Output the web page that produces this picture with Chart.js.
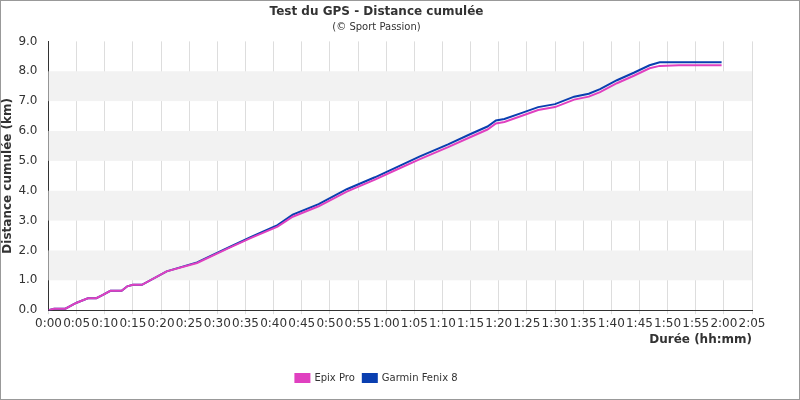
<!DOCTYPE html><html><head><meta charset="utf-8">
<script src="https://cdn.jsdelivr.net/npm/chart.js@4"></script>
<style>body{margin:0}#w{width:798px;height:398px;border:1px solid #999}</style></head><body><div id="w"><canvas id="c"></canvas></div>
<script>
const minutes = [0,1,3,5,7,8.5,9.5,11,13,14,15,16.6,21,26.4,32,36,40.7,43.4,48,53,58,62,66,71,75,78,79.5,81,84,87,90,93.4,96,98,101,104,106.8,108.6,112,119.6];
const fenix = [0,0.05,0.05,0.25,0.4,0.4,0.5,0.65,0.65,0.8,0.85,0.85,1.3,1.6,2.1,2.45,2.85,3.2,3.55,4.05,4.45,4.8,5.15,5.55,5.9,6.15,6.35,6.4,6.6,6.8,6.9,7.15,7.25,7.4,7.7,7.95,8.2,8.3,8.3,8.3];
const epix  = [0,0.05,0.05,0.25,0.4,0.4,0.5,0.65,0.65,0.8,0.85,0.85,1.3,1.58,2.08,2.42,2.8,3.13,3.48,3.97,4.37,4.72,5.06,5.46,5.8,6.05,6.25,6.3,6.5,6.7,6.8,7.05,7.15,7.3,7.6,7.85,8.1,8.18,8.2,8.2];
const xTicks = [0,5,10,15,20,25,30,35,40,45,50,55,60,65,70,75,80,85,90,95,100,105,110,115,120,125];
const fmt = m => Math.floor(m/60)+':'+String(m%60).padStart(2,'0');
const bands = {id:'bands',beforeDatasetsDraw(ch){const {ctx,chartArea:a,scales:{y}}=ch;ctx.save();ctx.fillStyle='#f2f2f2';
 for(let v=1;v<9;v+=2){const t=y.getPixelForValue(v+1),b=y.getPixelForValue(v);ctx.fillRect(a.left,t,a.right-a.left,b-t);}ctx.restore();}};
Chart.defaults.font.family='DejaVu Sans';Chart.defaults.font.size=11;Chart.defaults.color='#333';
new Chart(document.getElementById('c'),{type:'line',
data:{datasets:[
 {label:'Epix Pro',data:minutes.map((m,i)=>({x:m,y:epix[i]})),borderColor:'#e040c0',backgroundColor:'#e040c0',borderWidth:2,pointRadius:0},
 {label:'Garmin Fenix 8',data:minutes.map((m,i)=>({x:m,y:fenix[i]})),borderColor:'#0a3fb0',backgroundColor:'#0a3fb0',borderWidth:2,pointRadius:0}]},
options:{responsive:true,maintainAspectRatio:false,animation:false,
 layout:{padding:{left:0,right:47,top:0,bottom:6}},
 plugins:{title:{display:true,text:'Test du GPS - Distance cumulée',font:{weight:'bold',size:12},padding:{top:4,bottom:2}},
  subtitle:{display:true,text:'(© Sport Passion)',font:{size:10},padding:{bottom:8}},
  legend:{position:'bottom',labels:{boxWidth:14,boxHeight:8,font:{size:10},padding:8}}},
 scales:{x:{type:'linear',min:0,max:125,afterBuildTicks:s=>{s.ticks=xTicks.map(v=>({value:v}));},
   ticks:{callback:v=>fmt(v),maxRotation:0,autoSkip:false,font:{size:12},padding:2},
   grid:{color:'#ddd',drawTicks:true,tickLength:4},border:{color:'#333'},
   title:{display:true,text:'Durée (hh:mm)',align:'end',font:{weight:'bold',size:12},padding:{top:0,bottom:18}}},
  y:{min:0,max:9,ticks:{stepSize:1,callback:v=>v.toFixed(1),font:{size:12}},grid:{display:false},border:{color:'#333'},
   title:{display:true,text:'Distance cumulée (km)',font:{weight:'bold',size:12},padding:0}}}},
plugins:[bands]});
</script></body></html>
